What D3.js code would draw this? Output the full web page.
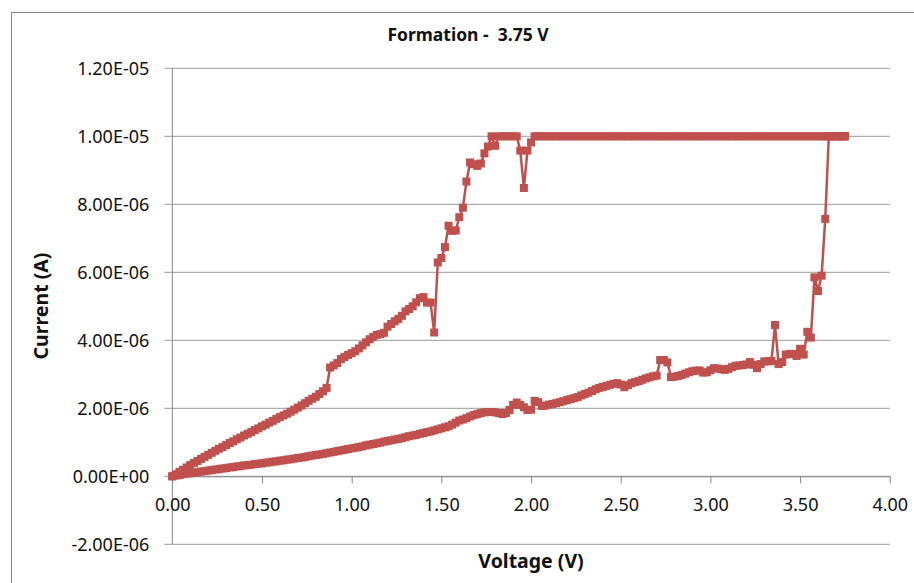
<!DOCTYPE html>
<html>
<head>
<meta charset="utf-8">
<script src="https://cdn.jsdelivr.net/npm/d3@7"></script>
<style>
  html, body { margin: 0; padding: 0; background: #fff; }
  svg { display: block; }
  text { font-family: "Noto Sans", "Open Sans", sans-serif; fill: #111; }
</style>
</head>
<body>
<svg id="chart" width="914" height="583"></svg>
<script>
// Formation sweep: 0 V -> 3.75 V -> 0 V, compliance 10 uA.
// Voltage grid of the sweep (V)
const sweepVoltage = [
  0.00,0.02,0.04,0.06,0.08,0.10,0.12,0.14,0.16,0.18,
  0.20,0.22,0.24,0.26,0.28,0.30,0.32,0.34,0.36,0.38,
  0.40,0.42,0.44,0.46,0.48,0.50,0.52,0.54,0.56,0.58,
  0.60,0.62,0.64,0.66,0.68,0.70,0.72,0.74,0.76,0.78,
  0.80,0.82,0.84,0.86,0.88,0.90,0.92,0.94,0.96,0.98,
  1.00,1.02,1.04,1.06,1.08,1.10,1.12,1.14,1.16,1.18,
  1.20,1.22,1.24,1.26,1.28,1.30,1.32,1.34,1.36,1.38,
  1.40,1.42,1.44,1.46,1.48,1.50,1.52,1.54,1.56,1.58,
  1.60,1.62,1.64,1.66,1.68,1.70,1.72,1.74,1.76,1.78,
  1.80,1.82,1.84,1.86,1.88,1.90,1.92,1.94,1.96,1.98,
  2.00,2.02,2.04,2.06,2.08,2.10,2.12,2.14,2.16,2.18,
  2.20,2.22,2.24,2.26,2.28,2.30,2.32,2.34,2.36,2.38,
  2.40,2.42,2.44,2.46,2.48,2.50,2.52,2.54,2.56,2.58,
  2.60,2.62,2.64,2.66,2.68,2.70,2.72,2.74,2.76,2.78,
  2.80,2.82,2.84,2.86,2.88,2.90,2.92,2.94,2.96,2.98,
  3.00,3.02,3.04,3.06,3.08,3.10,3.12,3.14,3.16,3.18,
  3.20,3.22,3.24,3.26,3.28,3.30,3.32,3.34,3.36,3.38,
  3.40,3.42,3.44,3.46,3.48,3.50,3.52,3.54,3.56,3.58,
  3.60,3.62,3.64,3.66,3.68,3.70,3.72,3.74,3.75
];

// Current on the way up (uA), one value per grid voltage
const forwardCurrent = [
  0.00,0.02,0.04,0.06,0.08,0.09,0.11,0.12,0.14,0.15,
  0.17,0.18,0.20,0.21,0.23,0.24,0.26,0.27,0.29,0.30,
  0.32,0.33,0.34,0.36,0.37,0.38,0.40,0.41,0.43,0.44,
  0.46,0.47,0.49,0.50,0.52,0.54,0.55,0.57,0.59,0.61,
  0.63,0.64,0.66,0.68,0.70,0.72,0.74,0.76,0.78,0.80,
  0.82,0.84,0.86,0.88,0.91,0.93,0.95,0.97,0.99,1.02,
  1.04,1.06,1.08,1.10,1.12,1.15,1.18,1.20,1.22,1.25,
  1.27,1.30,1.32,1.35,1.38,1.41,1.44,1.47,1.52,1.58,
  1.64,1.67,1.71,1.76,1.80,1.83,1.86,1.88,1.89,1.89,
  1.88,1.86,1.83,1.86,1.95,2.10,2.17,2.10,2.03,1.95,
  1.96,2.22,2.18,2.07,2.08,2.11,2.13,2.15,2.18,2.21,
  2.24,2.27,2.30,2.33,2.38,2.42,2.46,2.51,2.56,2.60,
  2.63,2.66,2.69,2.72,2.74,2.70,2.62,2.68,2.74,2.77,
  2.80,2.84,2.88,2.91,2.94,2.96,3.42,3.42,3.35,2.92,
  2.93,2.95,2.98,3.02,3.06,3.09,3.11,3.11,3.05,3.06,
  3.12,3.18,3.17,3.15,3.13,3.16,3.21,3.25,3.26,3.27,
  3.29,3.36,3.28,3.18,3.30,3.38,3.38,3.39,4.45,3.30,
  3.36,3.58,3.60,3.60,3.54,3.75,3.58,4.25,4.08,5.85,
  5.45,5.90,7.57,10.0,10.0,10.0,10.0,10.0,10.0
];

// Current on the way back down (uA), listed against the same grid voltages
const reverseCurrent = [
  0.00,0.06,0.13,0.19,0.26,0.33,0.39,0.45,0.51,0.57,
  0.63,0.69,0.75,0.81,0.86,0.92,0.98,1.03,1.09,1.14,
  1.20,1.25,1.30,1.36,1.41,1.47,1.52,1.58,1.63,1.69,
  1.74,1.79,1.84,1.90,1.96,2.02,2.08,2.15,2.22,2.28,
  2.34,2.42,2.50,2.60,3.20,3.26,3.33,3.45,3.51,3.57,
  3.62,3.68,3.76,3.85,3.94,4.03,4.10,4.16,4.18,4.22,
  4.40,4.48,4.56,4.63,4.72,4.85,4.92,5.00,5.12,5.24,
  5.27,5.11,5.11,4.23,6.29,6.42,6.74,7.37,7.22,7.23,
  7.62,7.90,8.67,9.23,9.18,9.13,9.20,9.50,9.70,10.0,
  9.72,10.0,10.0,10.0,10.0,10.0,10.0,9.58,8.48,9.58,
  9.82,10.0,10.0,10.0,10.0,10.0,10.0,10.0,10.0,10.0,
  10.0,10.0,10.0,10.0,10.0,10.0,10.0,10.0,10.0,10.0,
  10.0,10.0,10.0,10.0,10.0,10.0,10.0,10.0,10.0,10.0,
  10.0,10.0,10.0,10.0,10.0,10.0,10.0,10.0,10.0,10.0,
  10.0,10.0,10.0,10.0,10.0,10.0,10.0,10.0,10.0,10.0,
  10.0,10.0,10.0,10.0,10.0,10.0,10.0,10.0,10.0,10.0,
  10.0,10.0,10.0,10.0,10.0,10.0,10.0,10.0,10.0,10.0,
  10.0,10.0,10.0,10.0,10.0,10.0,10.0,10.0,10.0,10.0,
  10.0,10.0,10.0,10.0,10.0,10.0,10.0,10.0,10.0
];

// Axis ticks
const xTickValues = [0, 0.5, 1, 1.5, 2, 2.5, 3, 3.5, 4];
const xTickLabels = ["0.00","0.50","1.00","1.50","2.00","2.50","3.00","3.50","4.00"];
const yTickValues = [-2, 0, 2, 4, 6, 8, 10, 12]; // uA
const yTickLabels = ["-2.00E-06","0.00E+00","2.00E-06","4.00E-06","6.00E-06","8.00E-06","1.00E-05","1.20E-05"];

const chartTitle = "Formation -  3.75 V";
const xTitle = "Voltage (V)";
const yTitle = "Current (A)";

const seriesColor = "#c0504d";
const axisColor = "#868686";
const gridColor = "#9a9a9a";

const svg = d3.select("#chart");

// Chart-area frame
svg.append("rect")
  .attr("x", 11.5).attr("y", 12.5)
  .attr("width", 1000).attr("height", 1000)
  .attr("fill", "none").attr("stroke", axisColor).attr("stroke-width", 1);

const x = d3.scaleLinear().domain([0, 4]).range([172.3, 889.8]);
const y = d3.scaleLinear().domain([-2, 12]).range([544.3, 68.3]);

// Horizontal gridlines with left tick stubs
svg.append("g")
  .selectAll("line")
  .data(yTickValues)
  .join("line")
  .attr("x1", x(0) - 8).attr("x2", x(4))
  .attr("y1", d => y(d)).attr("y2", d => y(d))
  .attr("stroke", gridColor).attr("stroke-width", 1);

// Vertical axis line
svg.append("line")
  .attr("x1", x(0)).attr("x2", x(0))
  .attr("y1", y(12)).attr("y2", y(-2))
  .attr("stroke", axisColor).attr("stroke-width", 1);

// Horizontal axis crossing at zero current
const xAxis = d3.axisBottom(x)
  .tickValues(xTickValues)
  .tickFormat((d, i) => xTickLabels[i])
  .tickSize(7)
  .tickSizeOuter(0);

const gx = svg.append("g")
  .attr("transform", `translate(0,${y(0)})`)
  .call(xAxis);
gx.select(".domain").attr("stroke", axisColor);
gx.selectAll(".tick line").attr("stroke", axisColor);
gx.selectAll(".tick text")
  .attr("y", 35)
  .attr("dy", null)
  .attr("font-size", 18)
  .attr("font-family", "Noto Sans, sans-serif")
  .attr("fill", "#111");

// Vertical tick labels
const yAxis = d3.axisLeft(y)
  .tickValues(yTickValues)
  .tickFormat((d, i) => yTickLabels[i])
  .tickSize(0)
  .tickPadding(23);
const gy = svg.append("g")
  .attr("transform", `translate(${x(0)},0)`)
  .call(yAxis);
gy.select(".domain").remove();
gy.selectAll(".tick text")
  .attr("dy", "0.36em")
  .attr("font-size", 18)
  .attr("font-family", "Noto Sans, sans-serif")
  .attr("fill", "#111");

// Sweep path: up on the forward current, back on the reverse current
const forwardPoints = sweepVoltage.map((v, i) => ({ v, c: forwardCurrent[i] }));
const reversePoints = sweepVoltage.map((v, i) => ({ v, c: reverseCurrent[i] })).reverse();
const sweepPoints = forwardPoints.concat(reversePoints);

const line = d3.line()
  .x(d => x(d.v))
  .y(d => y(d.c));

svg.append("path")
  .datum(sweepPoints)
  .attr("d", line)
  .attr("fill", "none")
  .attr("stroke", seriesColor)
  .attr("stroke-width", 2.5)
  .attr("stroke-linejoin", "round");

const markerSize = 8;
svg.append("g")
  .selectAll("rect")
  .data(sweepPoints)
  .join("rect")
  .attr("x", d => x(d.v) - markerSize / 2)
  .attr("y", d => y(d.c) - markerSize / 2)
  .attr("width", markerSize)
  .attr("height", markerSize)
  .attr("fill", seriesColor);

// Titles
svg.append("text")
  .attr("x", 468).attr("y", 41)
  .attr("text-anchor", "middle")
  .attr("font-size", 17.5)
  .attr("font-weight", "bold")
  .style("white-space", "pre")
  .attr("xml:space", "preserve")
  .text(chartTitle);

svg.append("text")
  .attr("x", x(2)).attr("y", 568)
  .attr("text-anchor", "middle")
  .attr("font-size", 19.5)
  .attr("font-weight", "bold")
  .text(xTitle);

svg.append("text")
  .attr("transform", "translate(48,306) rotate(-90)")
  .attr("text-anchor", "middle")
  .attr("font-size", 19.5)
  .attr("font-weight", "bold")
  .text(yTitle);
</script>
</body>
</html>
